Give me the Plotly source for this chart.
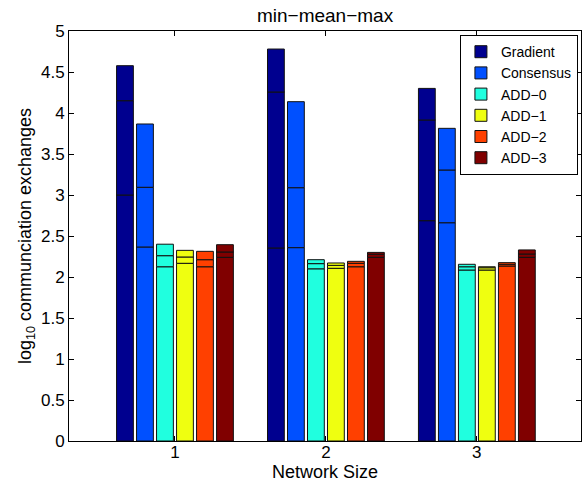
import plotly.graph_objects as go

categories = [1, 2, 3]
series = ["Gradient", "Consensus", "ADD−0", "ADD−1", "ADD−2", "ADD−3"]
colors = ["#00008F", "#0050FF", "#20FFDF", "#EFFF10", "#FF4000", "#800000"]

min_vals = {
    "Gradient":  [3.00, 2.354, 2.687],
    "Consensus": [2.366, 2.358, 2.662],
    "ADD−0":     [2.125, 2.100, 2.085],
    "ADD−1":     [2.167, 2.106, 2.085],
    "ADD−2":     [2.125, 2.125, 2.134],
    "ADD−3":     [2.240, 2.240, 2.240],
}
mean_vals = {
    "Gradient":  [4.150, 4.256, 3.915],
    "Consensus": [3.094, 3.089, 3.305],
    "ADD−0":     [2.260, 2.163, 2.125],
    "ADD−1":     [2.244, 2.142, 2.113],
    "ADD−2":     [2.211, 2.167, 2.155],
    "ADD−3":     [2.305, 2.277, 2.280],
}
max_vals = {
    "Gradient":  [4.577, 4.780, 4.300],
    "Consensus": [3.866, 4.138, 3.813],
    "ADD−0":     [2.400, 2.211, 2.155],
    "ADD−1":     [2.325, 2.171, 2.125],
    "ADD−2":     [2.313, 2.191, 2.175],
    "ADD−3":     [2.394, 2.300, 2.330],
}

fig = go.Figure()
for name, col in zip(series, colors):
    mn, me, mx = min_vals[name], mean_vals[name], max_vals[name]
    segs = [
        ([0] * len(mn), mn),
        (mn, [b - a for a, b in zip(mn, me)]),
        (me, [b - a for a, b in zip(me, mx)]),
    ]
    for i, (base, h) in enumerate(segs):
        fig.add_trace(go.Bar(
            x=categories, y=h, base=base, name=name,
            offsetgroup=name, legendgroup=name, showlegend=(i == 0),
            marker=dict(color=col, line=dict(color="#111111", width=1)),
            hoverinfo="skip",
        ))

font = "Liberation Sans, Arial, Helvetica, sans-serif"
fig.update_layout(
    width=582, height=483,
    margin=dict(l=69, r=1, t=31, b=42),
    paper_bgcolor="white", plot_bgcolor="white",
    barmode="group", bargap=0.205, bargroupgap=0.16,
    font=dict(family=font, size=17, color="black"),
    title=dict(text="min−mean−max", x=0.5585, xanchor="center", y=0.968, yanchor="middle",
               font=dict(size=19)),
    legend=dict(x=0.994, y=0.99, xanchor="right", yanchor="top",
                bordercolor="black", borderwidth=1, bgcolor="white",
                font=dict(size=14), tracegroupgap=0, itemwidth=30),
    xaxis=dict(range=[0.298, 3.69], tickvals=categories, ticktext=["1", "2", "3"],
               ticks="inside", ticklen=5, tickcolor="black", showline=True,
               linecolor="black", linewidth=1, mirror="ticks", showgrid=False,
               zeroline=False, tickfont=dict(size=17), ticklabelstandoff=-4,
               title=dict(text="Network Size", standoff=0, font=dict(size=18))),
    yaxis=dict(range=[0, 5], dtick=0.5, ticks="inside", ticklen=5, tickcolor="black",
               showline=True, linecolor="black", linewidth=1, mirror="ticks",
               showgrid=False, zeroline=False, tickfont=dict(size=17),
               title=dict(text="log<sub>10</sub> communciation exchanges", standoff=4,
                          font=dict(size=18))),
)

fig.write_html("out.html")
